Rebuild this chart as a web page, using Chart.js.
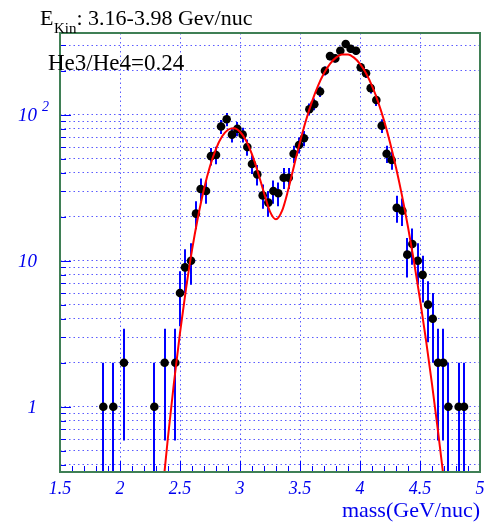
<!DOCTYPE html>
<html>
<head>
<meta charset="utf-8">
<script src="https://cdn.jsdelivr.net/npm/chart.js@4.4.0/dist/chart.umd.min.js"></script>
<style>
  html, body { margin: 0; padding: 0; background: #fff; }
</style>
</head>
<body>
<canvas id="c" width="485" height="524"></canvas>
<script>
// Histogram bins (mass, GeV/nuc) and counts
const massBins = [1.861, 1.944, 2.033, 2.286, 2.372, 2.461, 2.500, 2.542, 2.592, 2.633,
  2.672, 2.717, 2.758, 2.800, 2.842, 2.889, 2.933, 2.978, 3.022, 3.061,
  3.100, 3.144, 3.189, 3.236, 3.278, 3.319, 3.364, 3.406, 3.447, 3.492,
  3.533, 3.578, 3.619, 3.667, 3.708, 3.750, 3.794, 3.836, 3.881, 3.922,
  3.967, 4.006, 4.050, 4.089, 4.136, 4.181, 4.222, 4.264, 4.306, 4.353,
  4.394, 4.436, 4.481, 4.522, 4.567, 4.606, 4.650, 4.694, 4.736, 4.822, 4.867];
const counts = [1, 1, 2, 1, 2, 2, 6, 9, 10, 21,
  31, 30, 52, 53, 83, 93, 73, 80, 73, 60,
  46, 39, 28, 25, 30, 29, 37, 37, 54, 62,
  69, 109, 118, 144, 200, 252, 243, 274, 305, 283,
  274, 211, 192, 152, 126, 84, 54, 49, 23, 22,
  11, 13, 10, 8, 5, 4, 2, 2, 1, 1, 1];

// Fit curve (red)
const fitMass = [2.35, 2.40, 2.45, 2.50, 2.55, 2.60, 2.65, 2.70, 2.75, 2.80,
  2.85, 2.90, 2.95, 3.00, 3.05, 3.10, 3.15, 3.20, 3.25, 3.30,
  3.35, 3.40, 3.45, 3.50, 3.55, 3.60, 3.65, 3.70, 3.75, 3.80,
  3.85, 3.90, 3.95, 4.00, 4.05, 4.10, 4.15, 4.20, 4.25, 4.30,
  4.35, 4.40, 4.45, 4.50, 4.55, 4.60, 4.65, 4.70];
const fitValues = [0.24, 0.62, 1.47, 3.2, 6.4, 11.8, 19.9, 31.0, 44.3, 58.4,
  70.8, 78.9, 80.9, 76.4, 66.5, 53.5, 40.2, 29.1, 21.7, 19.2,
  21.9, 30.2, 44.6, 65.0, 91.6, 123, 157.5, 192, 222.7, 245.9,
  258.4, 258.4, 245.9, 222.7, 192, 157.5, 123, 91.4, 64.6, 43.5,
  27.9, 17.0, 9.85, 5.43, 2.86, 1.43, 0.68, 0.31];

// Axes
const xLabelValues = [1.5, 2, 2.5, 3, 3.5, 4, 4.5, 5];
const xLabels = ['1.5', '2', '2.5', '3', '3.5', '4', '4.5', '5'];
const xMinorTicks = [1.6, 1.7, 1.8, 1.9, 2.1, 2.2, 2.3, 2.4, 2.6, 2.7, 2.8, 2.9,
  3.1, 3.2, 3.3, 3.4, 3.6, 3.7, 3.8, 3.9, 4.1, 4.2, 4.3, 4.4, 4.6, 4.7, 4.8, 4.9];
const yGridValues = [0.4, 0.5, 0.6, 0.7, 0.8, 0.9, 1, 2, 3, 4, 5, 6, 7, 8, 9,
  10, 20, 30, 40, 50, 60, 70, 80, 90, 100, 200, 300];
const yLabelValues = [1, 10, 100];
const yLabels = ['1', '10', '10'];
const yLabelExps = ['', '', '2'];

const blue = '#0000ee';
const serif = "'Liberation Serif', 'DejaVu Serif', serif";

const decor = {
    id: 'decor',
    beforeDatasetsDraw(chart) {
        const { ctx, chartArea: a, scales: { x, y } } = chart;
        ctx.save();
        ctx.beginPath();
        ctx.rect(a.left, a.top, a.right - a.left, a.bottom - a.top);
        ctx.clip();
        ctx.strokeStyle = '#0000ff';
        ctx.lineWidth = 2;
        massBins.forEach((m, i) => {
            const n = counts[i], e = Math.sqrt(n);
            const px = Math.round(x.getPixelForValue(m));
            const top = y.getPixelForValue(n + e);
            const bot = n - e > 0 ? y.getPixelForValue(n - e) : a.bottom + 2;
            ctx.beginPath();
            ctx.moveTo(px, top);
            ctx.lineTo(px, bot);
            ctx.stroke();
        });
        ctx.restore();
    },
    afterDraw(chart) {
        const { ctx, chartArea: a, scales: { x, y } } = chart;
        ctx.save();

        // tick marks inside the frame
        ctx.strokeStyle = '#0000ff';
        ctx.lineWidth = 1;
        yGridValues.forEach(v => {
            const py = Math.round(y.getPixelForValue(v)) + 0.5;
            const len = yLabelValues.includes(v) ? 11 : 6;
            ctx.beginPath();
            ctx.moveTo(a.left, py);
            ctx.lineTo(a.left + len, py);
            ctx.stroke();
        });
        xMinorTicks.concat(xLabelValues).forEach(v => {
            const px = Math.round(x.getPixelForValue(v)) + 0.5;
            const len = xLabelValues.includes(v) ? 11 : 6;
            ctx.beginPath();
            ctx.moveTo(px, a.bottom);
            ctx.lineTo(px, a.bottom - len);
            ctx.stroke();
        });

        // frame
        ctx.strokeStyle = '#3f7f55';
        ctx.lineWidth = 2;
        ctx.strokeRect(a.left, a.top, a.right - a.left, a.bottom - a.top);

        // x labels
        ctx.fillStyle = blue;
        ctx.font = 'italic 18px ' + serif;
        ctx.textAlign = 'center';
        ctx.textBaseline = 'alphabetic';
        xLabelValues.forEach((v, i) => {
            ctx.fillText(xLabels[i], x.getPixelForValue(v), a.bottom + 22);
        });

        // y labels
        ctx.textAlign = 'right';
        yLabelValues.forEach((v, i) => {
            const py = y.getPixelForValue(v);
            ctx.font = 'italic 19px ' + serif;
            ctx.fillText(yLabels[i], 37, py + 6.5);
            if (yLabelExps[i]) {
                ctx.textAlign = 'left';
                ctx.font = 'italic 14px ' + serif;
                ctx.fillText(yLabelExps[i], 42, py - 4);
                ctx.textAlign = 'right';
            }
        });

        // axis title
        ctx.font = '22px ' + serif;
        ctx.textAlign = 'right';
        ctx.fillText('mass(GeV/nuc)', a.right, 517);

        // title and ratio text
        ctx.fillStyle = '#000';
        ctx.textAlign = 'left';
        ctx.font = '22px ' + serif;
        ctx.fillText('E', 40, 25);
        ctx.font = '15px ' + serif;
        ctx.fillText('Kin', 54, 33);
        const kw = ctx.measureText('Kin').width;
        ctx.font = '22px ' + serif;
        ctx.fillText(': 3.16-3.98 Gev/nuc', 54 + kw, 25);
        ctx.font = '23px ' + serif;
        ctx.fillText('He3/He4=0.24', 48, 70);

        ctx.restore();
    }
};

new Chart(document.getElementById('c'), {
    type: 'scatter',
    data: {
        datasets: [{
            type: 'line',
            data: fitMass.map((m, i) => ({ x: m, y: fitValues[i] })),
            borderColor: '#ff0000',
            borderWidth: 2,
            pointRadius: 0,
            fill: false,
            cubicInterpolationMode: 'monotone',
            order: 0
        }, {
            type: 'scatter',
            data: massBins.map((m, i) => ({ x: m, y: counts[i] })),
            pointRadius: 4.3,
            backgroundColor: '#000',
            borderWidth: 0,
            order: 1
        }]
    },
    options: {
        responsive: false,
        animation: false,
        devicePixelRatio: 1,
        layout: { padding: { left: 60, top: 33, right: 5, bottom: 52 } },
        plugins: { legend: { display: false }, tooltip: { enabled: false } },
        scales: {
            x: {
                type: 'linear', min: 1.5, max: 5,
                afterBuildTicks: s => { s.ticks = xLabelValues.map(v => ({ value: v })); },
                ticks: { display: false },
                grid: { color: 'rgba(50,50,255,0.8)', lineWidth: 1, drawTicks: false },
                border: { display: false, dash: [1.5, 3] }
            },
            y: {
                type: 'logarithmic', min: 0.357, max: 362.7,
                afterBuildTicks: s => { s.ticks = yGridValues.map(v => ({ value: v })); },
                ticks: { display: false },
                grid: { color: 'rgba(50,50,255,0.8)', lineWidth: 1, drawTicks: false },
                border: { display: false, dash: [1.5, 3] }
            }
        }
    },
    plugins: [decor]
});
</script>
</body>
</html>
